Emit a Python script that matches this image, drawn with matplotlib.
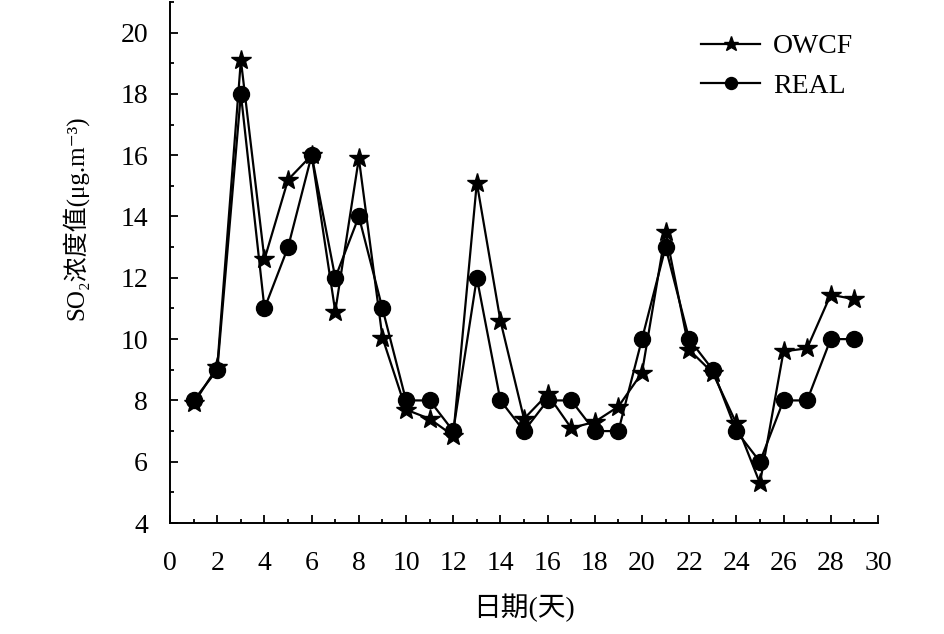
import numpy as np
import matplotlib
matplotlib.use('Agg')
import matplotlib.pyplot as plt
from matplotlib.ticker import MultipleLocator

# fonts: Times-like numbers, CJK fallback
plt.rcParams['font.family'] = ['Liberation Serif', 'Noto Sans CJK SC', 'DejaVu Sans']

# --- data ---
days = list(range(1, 30))
owcf = [7.9, 9.1, 19.1, 12.6, 15.2, 16.0, 10.9, 15.9, 10.05, 7.7,
        7.4, 6.85, 15.1, 10.6, 7.4, 8.2, 7.1, 7.3, 7.8, 8.9,
        13.5, 9.65, 8.9, 7.25, 5.3, 9.6, 9.7, 11.45, 11.3]
real = [8, 9, 18, 11, 13, 16, 12, 14, 11, 8,
        8, 7, 12, 8, 7, 8, 8, 7, 7, 10,
        13, 10, 9, 7, 6, 8, 8, 10, 10]
series_labels = ['OWCF', 'REAL']
x_label = '日期(天)'
y_label = 'SO₂浓度值(μg.m⁻³)'

FS = 20

fig = plt.figure(figsize=(9.45, 6.34), dpi=100)
ax = fig.add_axes([0.180, 0.175, 0.749, 0.822])

ax.plot(days, owcf, color='black', lw=1.6, marker='*', markersize=15, label=series_labels[0])
ax.plot(days, real, color='black', lw=1.6, marker='o', markersize=11.5, label=series_labels[1])

ax.set_xlim(0, 30)
ax.set_ylim(4, 21)
ax.xaxis.set_major_locator(MultipleLocator(2))
ax.xaxis.set_minor_locator(MultipleLocator(1))
ax.yaxis.set_minor_locator(MultipleLocator(1))
ax.set_yticks(np.arange(4, 21, 2))

for s in ['top', 'right']:
    ax.spines[s].set_visible(False)
for s in ['left', 'bottom']:
    ax.spines[s].set_linewidth(1.4)

ax.tick_params(which='major', direction='in', length=6, width=1.3, labelsize=FS)
ax.tick_params(axis='y', which='major', pad=16)
ax.tick_params(axis='x', which='major', pad=20)
ax.tick_params(which='minor', direction='in', length=3, width=1.3)

ax.set_xlabel(x_label, fontsize=FS, labelpad=13)
ax.set_ylabel(y_label, fontsize=18)
ax.yaxis.set_label_coords(-0.115, 0.585)

ax.legend(loc='upper left', bbox_to_anchor=(0.73, 0.965), frameon=False, fontsize=FS,
          markerscale=0.75, handlelength=2.15, handletextpad=0.45, labelspacing=0.5,
          borderpad=0)

fig.savefig('out.png', dpi=100)
